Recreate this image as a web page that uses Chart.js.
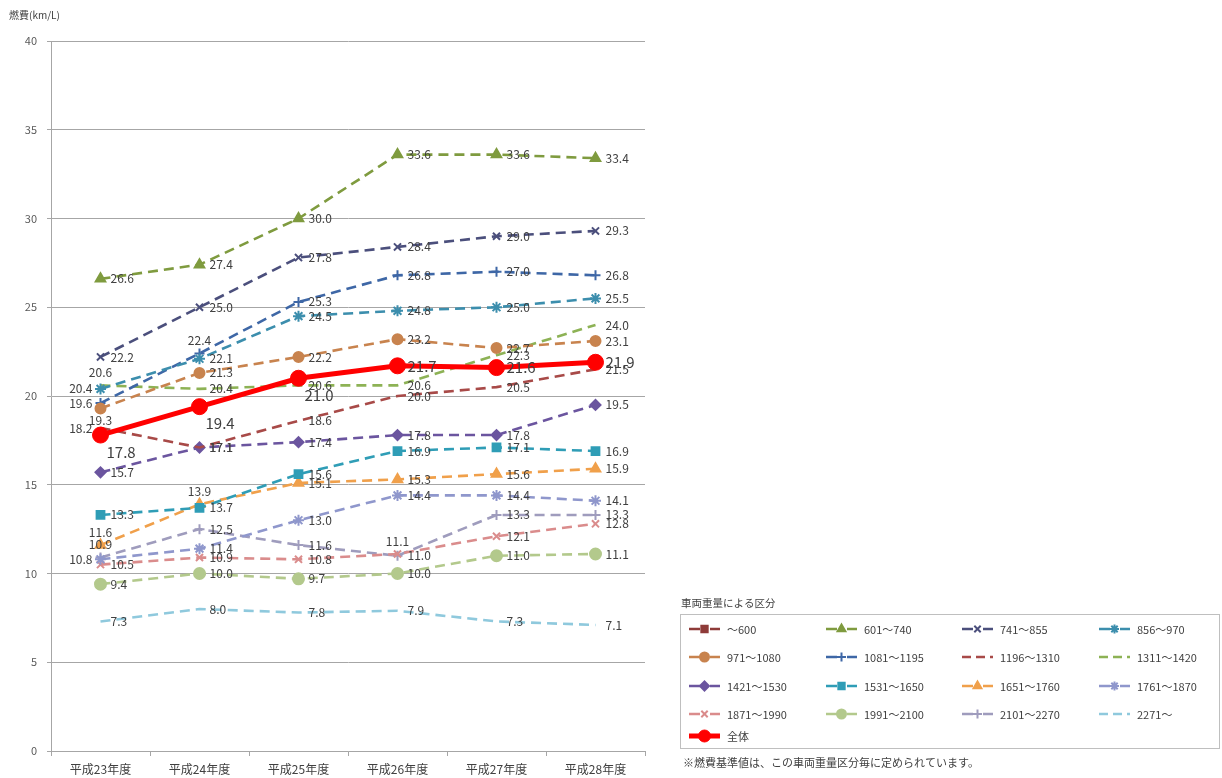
<!DOCTYPE html>
<html lang="ja">
<head>
<meta charset="utf-8">
<title>車両重量区分別 燃費の推移</title>
<script src="https://cdn.jsdelivr.net/npm/chart.js@4/dist/chart.umd.min.js"></script>
<style>
  html, body { margin: 0; padding: 0; background: #ffffff; }
  #wrap { position: relative; width: 1222px; height: 778px; }
  canvas { display: block; }
</style>
</head>
<body>
<div id="wrap"><canvas id="chart" width="1222" height="778"></canvas></div>
<script>
// 年度
const years = ['平成23年度', '平成24年度', '平成25年度', '平成26年度', '平成27年度', '平成28年度'];

// 車両重量区分 (kg)
const classes = ['～600', '601～740', '741～855', '856～970', '971～1080', '1081～1195',
  '1196～1310', '1311～1420', '1421～1530', '1531～1650', '1651～1760', '1761～1870',
  '1871～1990', '1991～2100', '2101～2270', '2271～'];

// 燃費 (km/L)
const fe600       = [null, null, null, null, null, null];
const fe601_740   = [26.6, 27.4, 30.0, 33.6, 33.6, 33.4];
const fe741_855   = [22.2, 25.0, 27.8, 28.4, 29.0, 29.3];
const fe856_970   = [20.4, 22.1, 24.5, 24.8, 25.0, 25.5];
const fe971_1080  = [19.3, 21.3, 22.2, 23.2, 22.7, 23.1];
const fe1081_1195 = [19.6, 22.4, 25.3, 26.8, 27.0, 26.8];
const fe1196_1310 = [18.2, 17.1, 18.6, 20.0, 20.5, 21.5];
const fe1311_1420 = [20.6, 20.4, 20.6, 20.6, 22.3, 24.0];
const fe1421_1530 = [15.7, 17.1, 17.4, 17.8, 17.8, 19.5];
const fe1531_1650 = [13.3, 13.7, 15.6, 16.9, 17.1, 16.9];
const fe1651_1760 = [11.6, 13.9, 15.1, 15.3, 15.6, 15.9];
const fe1761_1870 = [10.8, 11.4, 13.0, 14.4, 14.4, 14.1];
const fe1871_1990 = [10.5, 10.9, 10.8, 11.1, 12.1, 12.8];
const fe1991_2100 = [9.4, 10.0, 9.7, 10.0, 11.0, 11.1];
const fe2101_2270 = [10.9, 12.5, 11.6, 11.0, 13.3, 13.3];
const fe2271      = [7.3, 8.0, 7.8, 7.9, 7.3, 7.1];
const feAll       = [17.8, 19.4, 21.0, 21.7, 21.6, 21.9];

// Y 軸目盛
const yTicks = [0, 5, 10, 15, 20, 25, 30, 35, 40];

const seriesValues = [fe600, fe601_740, fe741_855, fe856_970, fe971_1080, fe1081_1195,
  fe1196_1310, fe1311_1420, fe1421_1530, fe1531_1650, fe1651_1760, fe1761_1870,
  fe1871_1990, fe1991_2100, fe2101_2270, fe2271];

// 系列の見た目
const seriesStyle = [
  { color: '#8E3B39', point: 'rect',     r: 4.5 },
  { color: '#7F9B3F', point: 'triangle', r: 5.5 },
  { color: '#4B4F7C', point: 'crossRot', r: 5 },
  { color: '#3C8EAD', point: 'star',     r: 5.5, labels: ['l','r','r','r','r','r'] },
  { color: '#C8834E', point: 'circle',   r: 5, labels: ['b','r','r','r','r','r'] },
  { color: '#3E67A6', point: 'cross',    r: 5, labels: ['l','t','r','r','r','r'] },
  { color: '#A84A48', point: false,      r: 0, labels: ['l','r','r','r','r','r'] },
  { color: '#8DB255', point: false,      r: 0, labels: ['t','r','r','r','r','r'] },
  { color: '#6B559F', point: 'rectRot',  r: 5 },
  { color: '#2F9DB6', point: 'rect',     r: 5.5 },
  { color: '#F0A04B', point: 'triangle', r: 5.5, labels: ['t','t','r','r','r','r'] },
  { color: '#8F97CC', point: 'star',     r: 5.5, labels: ['l','r','r','r','r','r'] },
  { color: '#DA8C8C', point: 'crossRot', r: 5, labels: ['r','r','r','t','r','r'] },
  { color: '#B3C98C', point: 'circle',   r: 5.5 },
  { color: '#9F9CBD', point: 'cross',    r: 5, labels: ['t','r','r','r','r','r'] },
  { color: '#8FC9DD', point: false,      r: 0 }
];

const FONT = '"Noto Sans CJK JP", "Noto Sans", sans-serif';
const TEXT = '#404040';
const DASH = [10, 6];

const datasets = seriesValues.map((vals, i) => {
  const st = seriesStyle[i];
  return {
    label: classes[i],
    data: vals,
    borderColor: st.color,
    backgroundColor: st.color,
    borderWidth: 2.6,
    borderDash: DASH,
    pointStyle: st.point,
    pointRadius: st.r,
    pointHoverRadius: st.r,
    pointBorderWidth: 2,
    pointBorderColor: st.color,
    pointBackgroundColor: st.color,
    tension: 0,
    spanGaps: false,
    order: 1,
    labelPos: st.labels || ['r','r','r','r','r','r'],
    labelFont: 12
  };
});

datasets.push({
  label: '全体',
  data: feAll,
  borderColor: '#FF0000',
  backgroundColor: '#FF0000',
  borderWidth: 5,
  pointStyle: 'circle',
  pointRadius: 8,
  pointHoverRadius: 8,
  pointBorderWidth: 1,
  pointBackgroundColor: '#FF0000',
  pointBorderColor: '#FF0000',
  tension: 0,
  order: 0,
  labelPos: ['br','br','br','r','r','r'],
  labelFont: 15
});

// 値ラベル
const valueLabels = {
  id: 'valueLabels',
  afterDatasetsDraw(chart) {
    const ctx = chart.ctx;
    ctx.save();
    chart.data.datasets.forEach((ds, di) => {
      const meta = chart.getDatasetMeta(di);
      ctx.font = ds.labelFont + 'px ' + FONT;
      ctx.fillStyle = TEXT;
      meta.data.forEach((pt, i) => {
        const v = ds.data[i];
        if (v === null || v === undefined) return;
        const txt = v.toFixed(1);
        const pos = ds.labelPos[i];
        let x = pt.x, y = pt.y;
        ctx.textBaseline = 'middle';
        if (pos === 'r') { ctx.textAlign = 'left'; x += 10; }
        else if (pos === 'l') { ctx.textAlign = 'right'; x -= 8; }
        else if (pos === 't') { ctx.textAlign = 'center'; y -= 13; }
        else if (pos === 'b') { ctx.textAlign = 'center'; y += 12; }
        else if (pos === 'br') { ctx.textAlign = 'left'; x += 6; y += 17; }
        ctx.fillText(txt, x, y);
      });
    });
    ctx.restore();
  }
};

// 凡例・軸タイトル・注記
const extras = {
  id: 'extras',
  afterDraw(chart) {
    const ctx = chart.ctx;
    const H = Chart.helpers;
    ctx.save();

    // 軸タイトル
    ctx.font = '10px ' + FONT;
    ctx.fillStyle = TEXT;
    ctx.textAlign = 'left';
    ctx.textBaseline = 'middle';
    ctx.fillText('燃費(km/L)', 9, 15);

    // 凡例タイトル
    ctx.font = '10.5px ' + FONT;
    ctx.fillText('車両重量による区分', 681, 603);

    // 凡例枠
    ctx.strokeStyle = '#BFBFBF';
    ctx.lineWidth = 1;
    ctx.strokeRect(680.5, 614.5, 539, 134);

    const colX = [689, 826, 962, 1099];
    const rowY = [629, 657, 686, 714, 736];
    ctx.font = '11px ' + FONT;
    chart.data.datasets.forEach((ds, i) => {
      const col = i % 4, row = Math.floor(i / 4);
      const x0 = colX[col], y0 = rowY[row];
      const isAll = i === 16;
      // 線見本
      ctx.strokeStyle = ds.borderColor;
      ctx.lineWidth = isAll ? 5 : 2.6;
      ctx.setLineDash(isAll ? [] : (ds.pointStyle ? [11, 10] : [9, 5]));
      ctx.beginPath();
      ctx.moveTo(x0, y0);
      ctx.lineTo(x0 + 31, y0);
      ctx.stroke();
      ctx.setLineDash([]);
      if (ds.pointStyle) {
        ctx.fillStyle = ds.pointBackgroundColor;
        ctx.strokeStyle = ds.pointBorderColor;
        ctx.lineWidth = isAll ? 1 : 2;
        H.drawPoint(ctx, {
          pointStyle: ds.pointStyle,
          radius: isAll ? 6 : Math.min(ds.pointRadius, 4.5),
          rotation: 0,
          borderWidth: isAll ? 1 : 2
        }, x0 + 15.5, y0);
      }
      ctx.fillStyle = TEXT;
      ctx.textAlign = 'left';
      ctx.textBaseline = 'middle';
      ctx.fillText(ds.label, x0 + 38, y0 + 0.5);
    });

    // 注記
    ctx.fillStyle = TEXT;
    ctx.font = '11px ' + FONT;
    ctx.fillText('※燃費基準値は、この車両重量区分毎に定められています。', 683, 763);
    ctx.restore();
  }
};

new Chart(document.getElementById('chart'), {
  type: 'line',
  data: { labels: years, datasets },
  options: {
    responsive: false,
    animation: false,
    devicePixelRatio: 1,
    layout: { padding: { top: 41, right: 577, left: 0, bottom: 0 } },
    plugins: {
      legend: { display: false },
      tooltip: { enabled: false }
    },
    scales: {
      x: {
        type: 'category',
        offset: true,
        grid: {
          offset: true,
          drawOnChartArea: false,
          drawTicks: true,
          tickLength: 5,
          color: '#A6A6A6'
        },
        border: { color: '#A6A6A6', width: 1 },
        ticks: {
          color: TEXT,
          font: { family: FONT, size: 12 },
          padding: 6,
          maxRotation: 0,
          autoSkip: false
        },
        afterFit(scale) { scale.height = 27; }
      },
      y: {
        min: 0,
        max: 40,
        afterBuildTicks(scale) { scale.ticks = yTicks.map(v => ({ value: v })); },
        grid: {
          color: '#A6A6A6',
          lineWidth: 1,
          drawTicks: true,
          tickLength: 4
        },
        border: { color: '#A6A6A6', width: 1 },
        ticks: {
          color: '#595959',
          font: { family: FONT, size: 11 },
          padding: 10
        },
        afterFit(scale) { scale.width = 51; }
      }
    }
  },
  plugins: [valueLabels, extras]
});
</script>
</body>
</html>
